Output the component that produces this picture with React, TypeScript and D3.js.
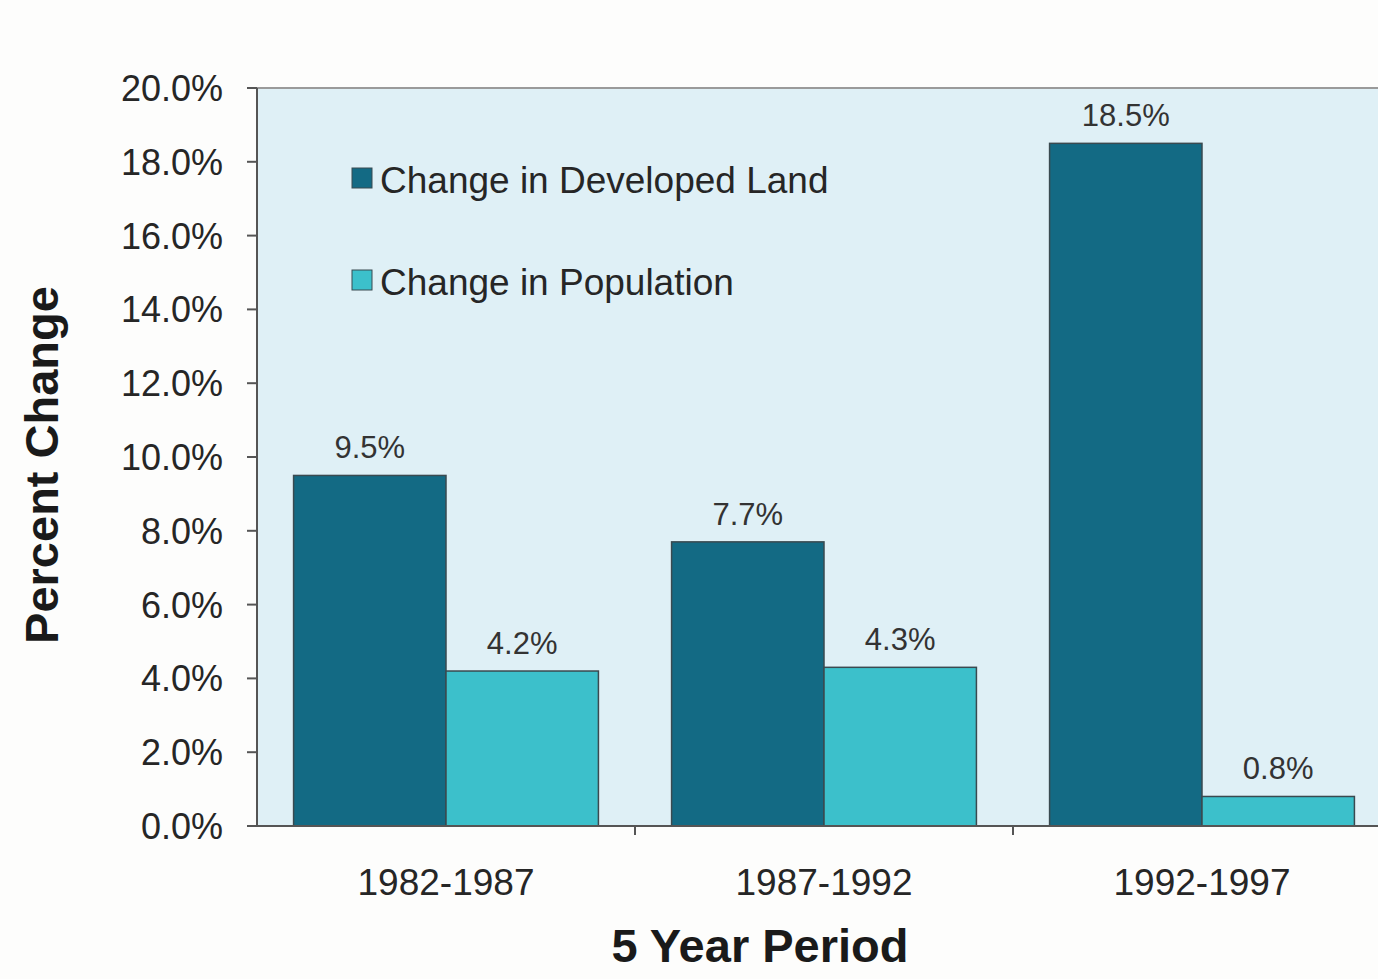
import React from "react";
import * as d3 from "d3";

const periods = ["1982-1987", "1987-1992", "1992-1997"];
const seriesNames = ["Change in Developed Land", "Change in Population"];
const developedLand = [9.5, 7.7, 18.5];
const population = [4.2, 4.3, 0.8];
const yTicks = [0, 2, 4, 6, 8, 10, 12, 14, 16, 18, 20];

const W = 1378;
const H = 979;
const left = 257;
const top = 88;
const bottom = 826;
const bandRight = 1391;
const colors = ["#136a84", "#3cc0cb"];
const font = "'Liberation Sans', Arial, sans-serif";

export default function App() {
  const x = d3.scaleBand<string>().domain(periods).range([left, bandRight]).paddingInner(0).paddingOuter(0);
  const y = d3.scaleLinear().domain([0, 20]).range([bottom, top]);
  const inner = d3.scaleBand<number>().domain([0, 1]).range([0, x.bandwidth()]).paddingOuter(0.24).paddingInner(0);
  const series = [developedLand, population];

  return (
    <svg width={W} height={H} style={{ position: "absolute", left: 0, top: 0, background: "#fdfdfc" }}>
      <rect x={left} y={top} width={W - left} height={bottom - top} fill="#dff0f6" />
      <line x1={left} x2={W} y1={top} y2={top} stroke="#9a9a9a" strokeWidth={2} />
      {series.map((vals, si) =>
        vals.map((v, i) => {
          const bx = (x(periods[i]) as number) + (inner(si) as number);
          const bw = inner.bandwidth();
          return (
            <g key={`${si}-${i}`}>
              <rect x={bx} y={y(v)} width={bw} height={bottom - y(v)} fill={colors[si]} stroke="#3a4a50" strokeWidth={1.5} />
              <text x={bx + bw / 2} y={y(v) - 17} textAnchor="middle" fontFamily={font} fontSize={31} fill="#333">
                {v.toFixed(1)}%
              </text>
            </g>
          );
        })
      )}
      {/* y axis */}
      <line x1={left} x2={left} y1={top} y2={bottom} stroke="#555" strokeWidth={2} />
      {yTicks.map((t) => (
        <g key={t}>
          <line x1={left - 10} x2={left} y1={y(t)} y2={y(t)} stroke="#555" strokeWidth={2} />
          <text x={223} y={y(t) + 13} textAnchor="end" fontFamily={font} fontSize={36} fill="#262626">
            {t.toFixed(1)}%
          </text>
        </g>
      ))}
      {/* x axis */}
      <line x1={left - 10} x2={W} y1={bottom} y2={bottom} stroke="#555" strokeWidth={2} />
      {periods.map((p, i) => (
        <g key={p}>
          {i > 0 && <line x1={x(p) as number} x2={x(p) as number} y1={bottom} y2={bottom + 9} stroke="#555" strokeWidth={2} />}
          <text x={(x(p) as number) + x.bandwidth() / 2} y={895} textAnchor="middle" fontFamily={font} fontSize={37} fill="#262626">
            {p}
          </text>
        </g>
      ))}
      {/* legend */}
      {seriesNames.map((n, i) => (
        <g key={n}>
          <rect x={352} y={168 + i * 102} width={20} height={20} fill={colors[i]} stroke="#3a4a50" strokeWidth={1} />
          <text x={380} y={193 + i * 102} fontFamily={font} fontSize={37} fill="#262626">
            {n}
          </text>
        </g>
      ))}
      <text x={760} y={962} textAnchor="middle" fontFamily={font} fontSize={47} fontWeight="bold" fill="#1a1a1a">
        5 Year Period
      </text>
      <text transform="translate(58,465) rotate(-90)" textAnchor="middle" fontFamily={font} fontSize={47} fontWeight="bold" fill="#1a1a1a">
        Percent Change
      </text>
    </svg>
  );
}
